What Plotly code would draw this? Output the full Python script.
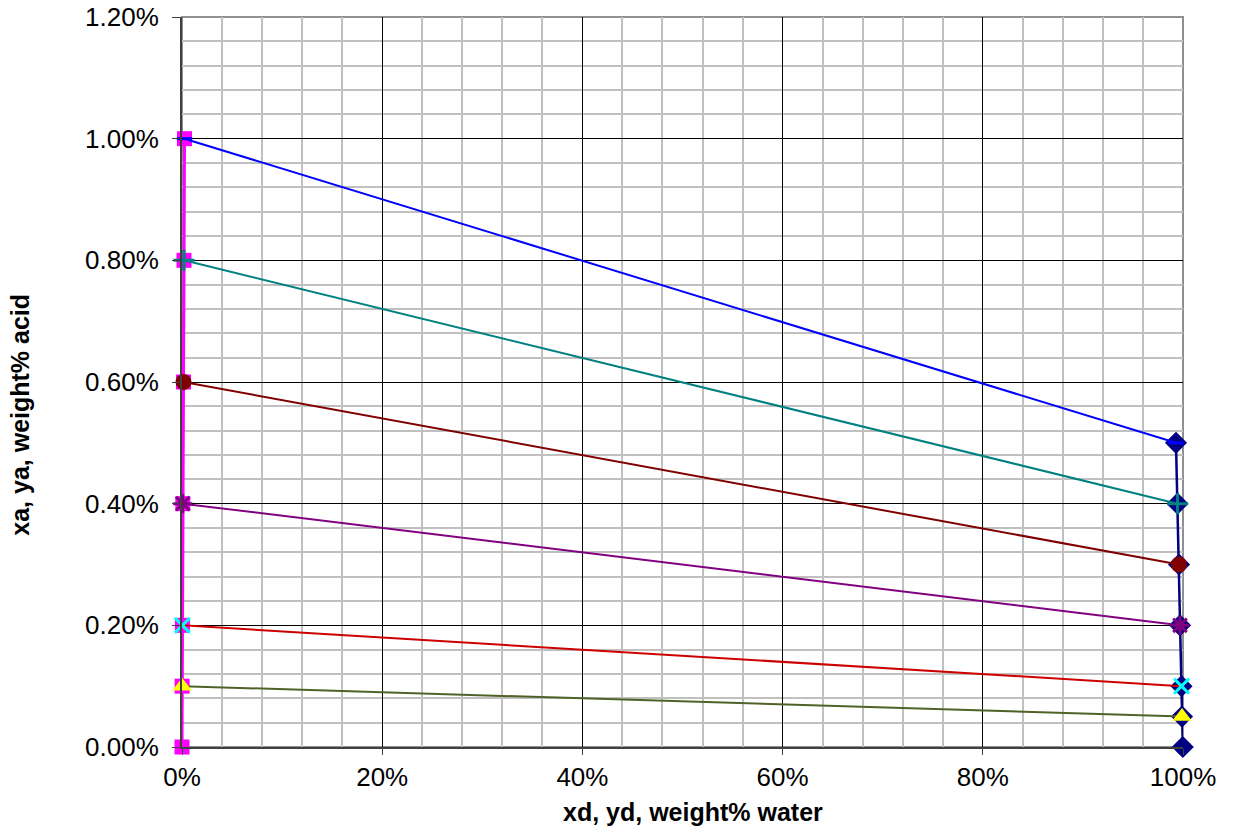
import plotly.graph_objects as go

# Left phase (raffinate) curve: x = weight fraction water, y = weight fraction acid
left_x = [0.0025, 0.0020, 0.0015, 0.0008, 0.0004, 0.0001, 0.0000]
left_y = [0.010, 0.008, 0.006, 0.004, 0.002, 0.001, 0.000]

# Right phase (extract) curve
right_x = [0.9930, 0.9945, 0.9960, 0.9970, 0.9985, 0.9990, 0.9998]
right_y = [0.005, 0.004, 0.003, 0.002, 0.001, 0.0005, 0.000]

# Tie lines (left point index -> right point index)
tie_names = ["tie 1.0%", "tie 0.8%", "tie 0.6%", "tie 0.4%", "tie 0.2%", "tie 0.1%"]
tie_line_colors = ["#0000FF", "#008080", "#800000", "#800080", "#CC0000", "#4F6228"]
tie_marker_colors = ["#0000FF", "#008080", "#800000", "#800080", "#00FFFF", "#FFFF00"]
tie_symbols = ["line-ew-open", "cross-thin-open", "circle", "asterisk-open", "x-thin-open", "triangle-up"]
tie_sizes = [11, 15, 16, 16, 15, 17]

fig = go.Figure()

fig.add_trace(go.Scatter(
    x=right_x, y=right_y, mode="lines+markers", name="extract",
    line=dict(color="#000080", width=2.5),
    marker=dict(symbol="diamond", size=17, color="#000080"),
    cliponaxis=False,
))
fig.add_trace(go.Scatter(
    x=left_x, y=left_y, mode="lines+markers", name="raffinate",
    line=dict(color="#FF00FF", width=3),
    marker=dict(symbol="square", size=15, color="#FF00FF"),
    cliponaxis=False,
))

order = [5, 4, 3, 2, 1, 0]
for i in order:
    mc = tie_marker_colors[i]
    fig.add_trace(go.Scatter(
        x=[left_x[i], right_x[i]], y=[left_y[i], right_y[i]],
        mode="lines+markers", name=tie_names[i],
        line=dict(color=tie_line_colors[i], width=2),
        marker=dict(symbol=tie_symbols[i], size=tie_sizes[i], color=mc,
                    line=dict(color=mc, width=3 if "open" in tie_symbols[i] else 0)),
        cliponaxis=False,
    ))

font_family = "Liberation Sans, Arial, sans-serif"

fig.update_layout(
    width=1234, height=826,
    margin=dict(l=182, r=51, t=17, b=79),
    paper_bgcolor="white", plot_bgcolor="white",
    showlegend=False,
    font=dict(family=font_family, size=26, color="black"),
    xaxis=dict(
        range=[0, 1], tickmode="linear", tick0=0, dtick=0.2, tickformat=".0%",
        showgrid=True, gridcolor="black", gridwidth=1,
        minor=dict(dtick=0.04, showgrid=True, gridcolor="#C0C0C0", gridwidth=2,
                   ticks=""),
        showline=True, linecolor="#404040", linewidth=2,
        ticks="outside", ticklen=6, tickcolor="#404040",
        zeroline=False, automargin=False,
        tickfont=dict(size=26, family=font_family),
    ),
    yaxis=dict(
        range=[0, 0.012], tickmode="linear", tick0=0, dtick=0.002, tickformat=".2%",
        showgrid=True, gridcolor="black", gridwidth=1,
        minor=dict(dtick=0.0004, showgrid=True, gridcolor="#C0C0C0", gridwidth=2,
                   ticks=""),
        showline=True, linecolor="#404040", linewidth=2,
        ticks="outside", ticklen=8, tickcolor="#404040",
        zeroline=False, automargin=False, ticklabelstandoff=8,
        tickfont=dict(size=26, family=font_family),
    ),
    shapes=[dict(type="rect", xref="paper", yref="paper", x0=0, y0=0, x1=1, y1=1,
                 line=dict(color="#909090", width=2), layer="between")],
    annotations=[
        dict(text="<b>xd, yd, weight% water</b>", xref="paper", yref="paper",
             x=0.5105, y=-0.089, xanchor="center", yanchor="middle", showarrow=False,
             font=dict(size=25, family=font_family)),
        dict(text="<b>xa, ya, weight% acid</b>", xref="paper", yref="paper",
             x=-0.162, y=0.455, xanchor="center", yanchor="middle", showarrow=False,
             textangle=-90, font=dict(size=25, family=font_family)),
    ],
)

fig.write_html("out.html")
